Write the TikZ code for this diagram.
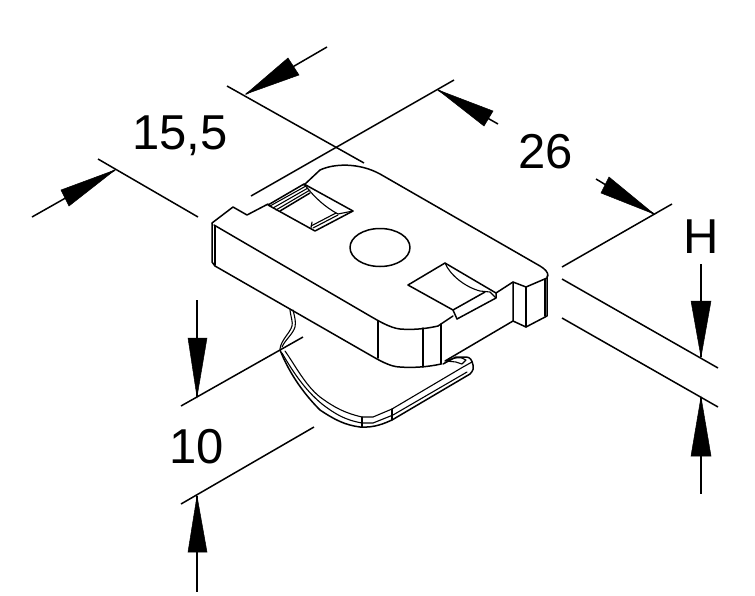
\documentclass[tikz,border=0pt]{standalone}
\usepackage{fontspec}
\setmainfont{Liberation Sans}
\tikzset{
  ln/.style={line width=1.5pt,line join=round,line cap=round},
  thin ln/.style={line width=1.1pt,line join=round,line cap=round},
  dimline/.style={line width=1.5pt},
  head/.style={fill=black,draw=black,line width=.5pt,line join=miter},
  dimtext/.style={font=\fontsize{49}{49}\selectfont,inner sep=0pt,anchor=base}
}
\begin{document}
\begin{tikzpicture}[x=1pt,y=-1pt]
\useasboundingbox (0,0) rectangle (755,595);
% named end points of the dimension graphics
\coordinate (w1a) at (98,159);   \coordinate (w1b) at (198,217);
\coordinate (w2a) at (227,86);   \coordinate (w2b) at (364,163);
\coordinate (w3a) at (251,196);  \coordinate (w3b) at (454,80);
\coordinate (w4a) at (562,267);  \coordinate (w4b) at (672,204);
\coordinate (w5a) at (562,279);  \coordinate (w5b) at (718,368);
\coordinate (w6a) at (562,318);  \coordinate (w6b) at (718,407);
\coordinate (w7a) at (181,406);  \coordinate (w7b) at (303,337);
\coordinate (w8a) at (181,504);  \coordinate (w8b) at (314,427);
% witness lines
\draw[dimline] (w1a) -- (w1b);
\draw[dimline] (w2a) -- (w2b);
\draw[dimline] (w3a) -- (w3b);
\draw[dimline] (w4a) -- (w4b);
\draw[dimline] (w5a) -- (w5b);
\draw[dimline] (w6a) -- (w6b);
\draw[dimline] (w7a) -- (w7b);
\draw[dimline] (w8a) -- (w8b);
% dimension lines
\draw[dimline] (32,217) -- (115,170);
\draw[dimline] (246,94) -- (327,47);
\draw[dimline] (438,90) -- (498,124);
\draw[dimline] (596,179) -- (654,214);
\draw[dimline] (701,264) -- (701,357);
\draw[dimline] (701,397) -- (701,494);
\draw[dimline] (197,300) -- (197,397);
\draw[dimline] (197,496) -- (197,592);
% arrow heads
\fill[head] (115,170) -- (69,206) -- (61,190) -- cycle;
\fill[head] (246,94) -- (299,75) -- (288,58) -- cycle;
\fill[head] (438,90) -- (493,111) -- (484,126) -- cycle;
\fill[head] (654,214) -- (609,177) -- (601,193) -- cycle;
\fill[head] (701,357) -- (691,301) -- (711,301) -- cycle;
\fill[head] (701,397) -- (691,456) -- (711,456) -- cycle;
\fill[head] (197,397) -- (188,338) -- (207,338) -- cycle;
\fill[head] (197,496) -- (188,552) -- (207,552) -- cycle;
% labels
\node[dimtext] (a) at (180,149) {15,5};
\node[dimtext] (b) at (545.5,168) {26};
\node[dimtext] (c) at (701,253) {H};
\node[dimtext] (d) at (197,463) {10};
% block top outline
\draw[ln] (212,223) -- (233,207) -- (247,215) -- (268,204);
\draw[ln] (304,185) -- (320,170) .. controls (335,163) and (360,163) .. (380,174) -- (540,266) .. controls (545,269) and (548,272) .. (548,276);
% left face
\draw[ln] (212,223) -- (212,262) -- (215,266);
\draw[thin ln] (215,226) -- (215,265);
\draw[ln] (214,225) -- (370,316) .. controls (377,320) and (390,328) .. (400,329) .. controls (412,330) and (425,329) .. (438,326);
\draw[ln] (215,266) -- (370,355) .. controls (377,359) and (390,367) .. (400,367) .. controls (412,368) and (428,367) .. (441,364);
\draw[ln] (378,321) -- (378,358);
\draw[ln] (423,328) -- (423,367);
\draw[ln] (441,324) -- (441,364);
% right side
\draw[ln] (438,326) -- (453,316);
\draw[ln] (457,319) -- (453,310);
\draw[ln] (496,293) -- (513,282) -- (526,287) -- (547,278);
\draw[ln] (513,282) -- (513,321) -- (526,327) -- (547,316) -- (547,276);
\draw[ln] (526,287) -- (526,327);
\draw[thin ln] (545,279) -- (545,316);
\draw[ln] (513,321) -- (445,361);
% slot 1
\draw[ln] (268,205) -- (304,184) -- (353,211) -- (315,231) -- cycle;
\draw[thin ln] (270,206) -- (306,186);
\draw[thin ln] (273,208) -- (308,188);
\draw[thin ln] (276,210) -- (310,190);
\draw[ln] (280,211) -- (310,193);
\draw[thin ln] (304,184) .. controls (315,198) and (325,207) .. (338,214);
\draw[thin ln] (312,222) -- (311,228);
\draw[thin ln] (338,214) -- (353,211);
\draw[thin ln] (313,228) -- (338,215);
\draw[thin ln] (311,226) -- (336,213);
% hole
\draw[ln] (380,247.5) ellipse [x radius=30, y radius=19];
% slot 2
\draw[ln] (408,285) -- (445,263) -- (496,293) -- (496,298) -- (457,319);
\draw[ln] (408,285) -- (453,310) -- (485,292);
\draw[thin ln] (445,263) .. controls (450,275) and (465,287) .. (480,291) -- (490,292) -- (496,298);
% clip
\draw[thin ln] (290,310) .. controls (291,318) and (293,322) .. (292,326) .. controls (290,333) and (281,340) .. (280,349);
\draw[thin ln] (293,310) .. controls (295,318) and (296,322) .. (295,327) .. controls (293,334) and (285,340) .. (282,347);
\draw[ln] (280,350) .. controls (290,375) and (305,395) .. (320,410) .. controls (335,420) and (345,425) .. (360,427) .. controls (375,428) and (385,423) .. (392,420) -- (470,374) .. controls (473,371) and (474,368) .. (473,365) .. controls (472,360) and (470,357) .. (466,357) -- (456,357) -- (443,364);
\draw[thin ln] (285,351) .. controls (295,365) and (305,385) .. (320,397) .. controls (335,408) and (345,413) .. (362,417) -- (373,417) -- (392,409) -- (463,367) -- (472,362);
\draw[thin ln] (282,353) .. controls (293,372) and (305,390) .. (322,404) .. controls (335,414) and (345,420) .. (362,423) -- (373,423) -- (393,415) -- (467,372);
\draw[thin ln] (362,417) -- (362,427);
\draw[thin ln] (392,409) -- (392,420);
\draw[thin ln] (446,361) .. controls (452,358) and (462,356) .. (466,360) -- (462,364) -- (456,362) -- (446,361);
\end{tikzpicture}
\end{document}
